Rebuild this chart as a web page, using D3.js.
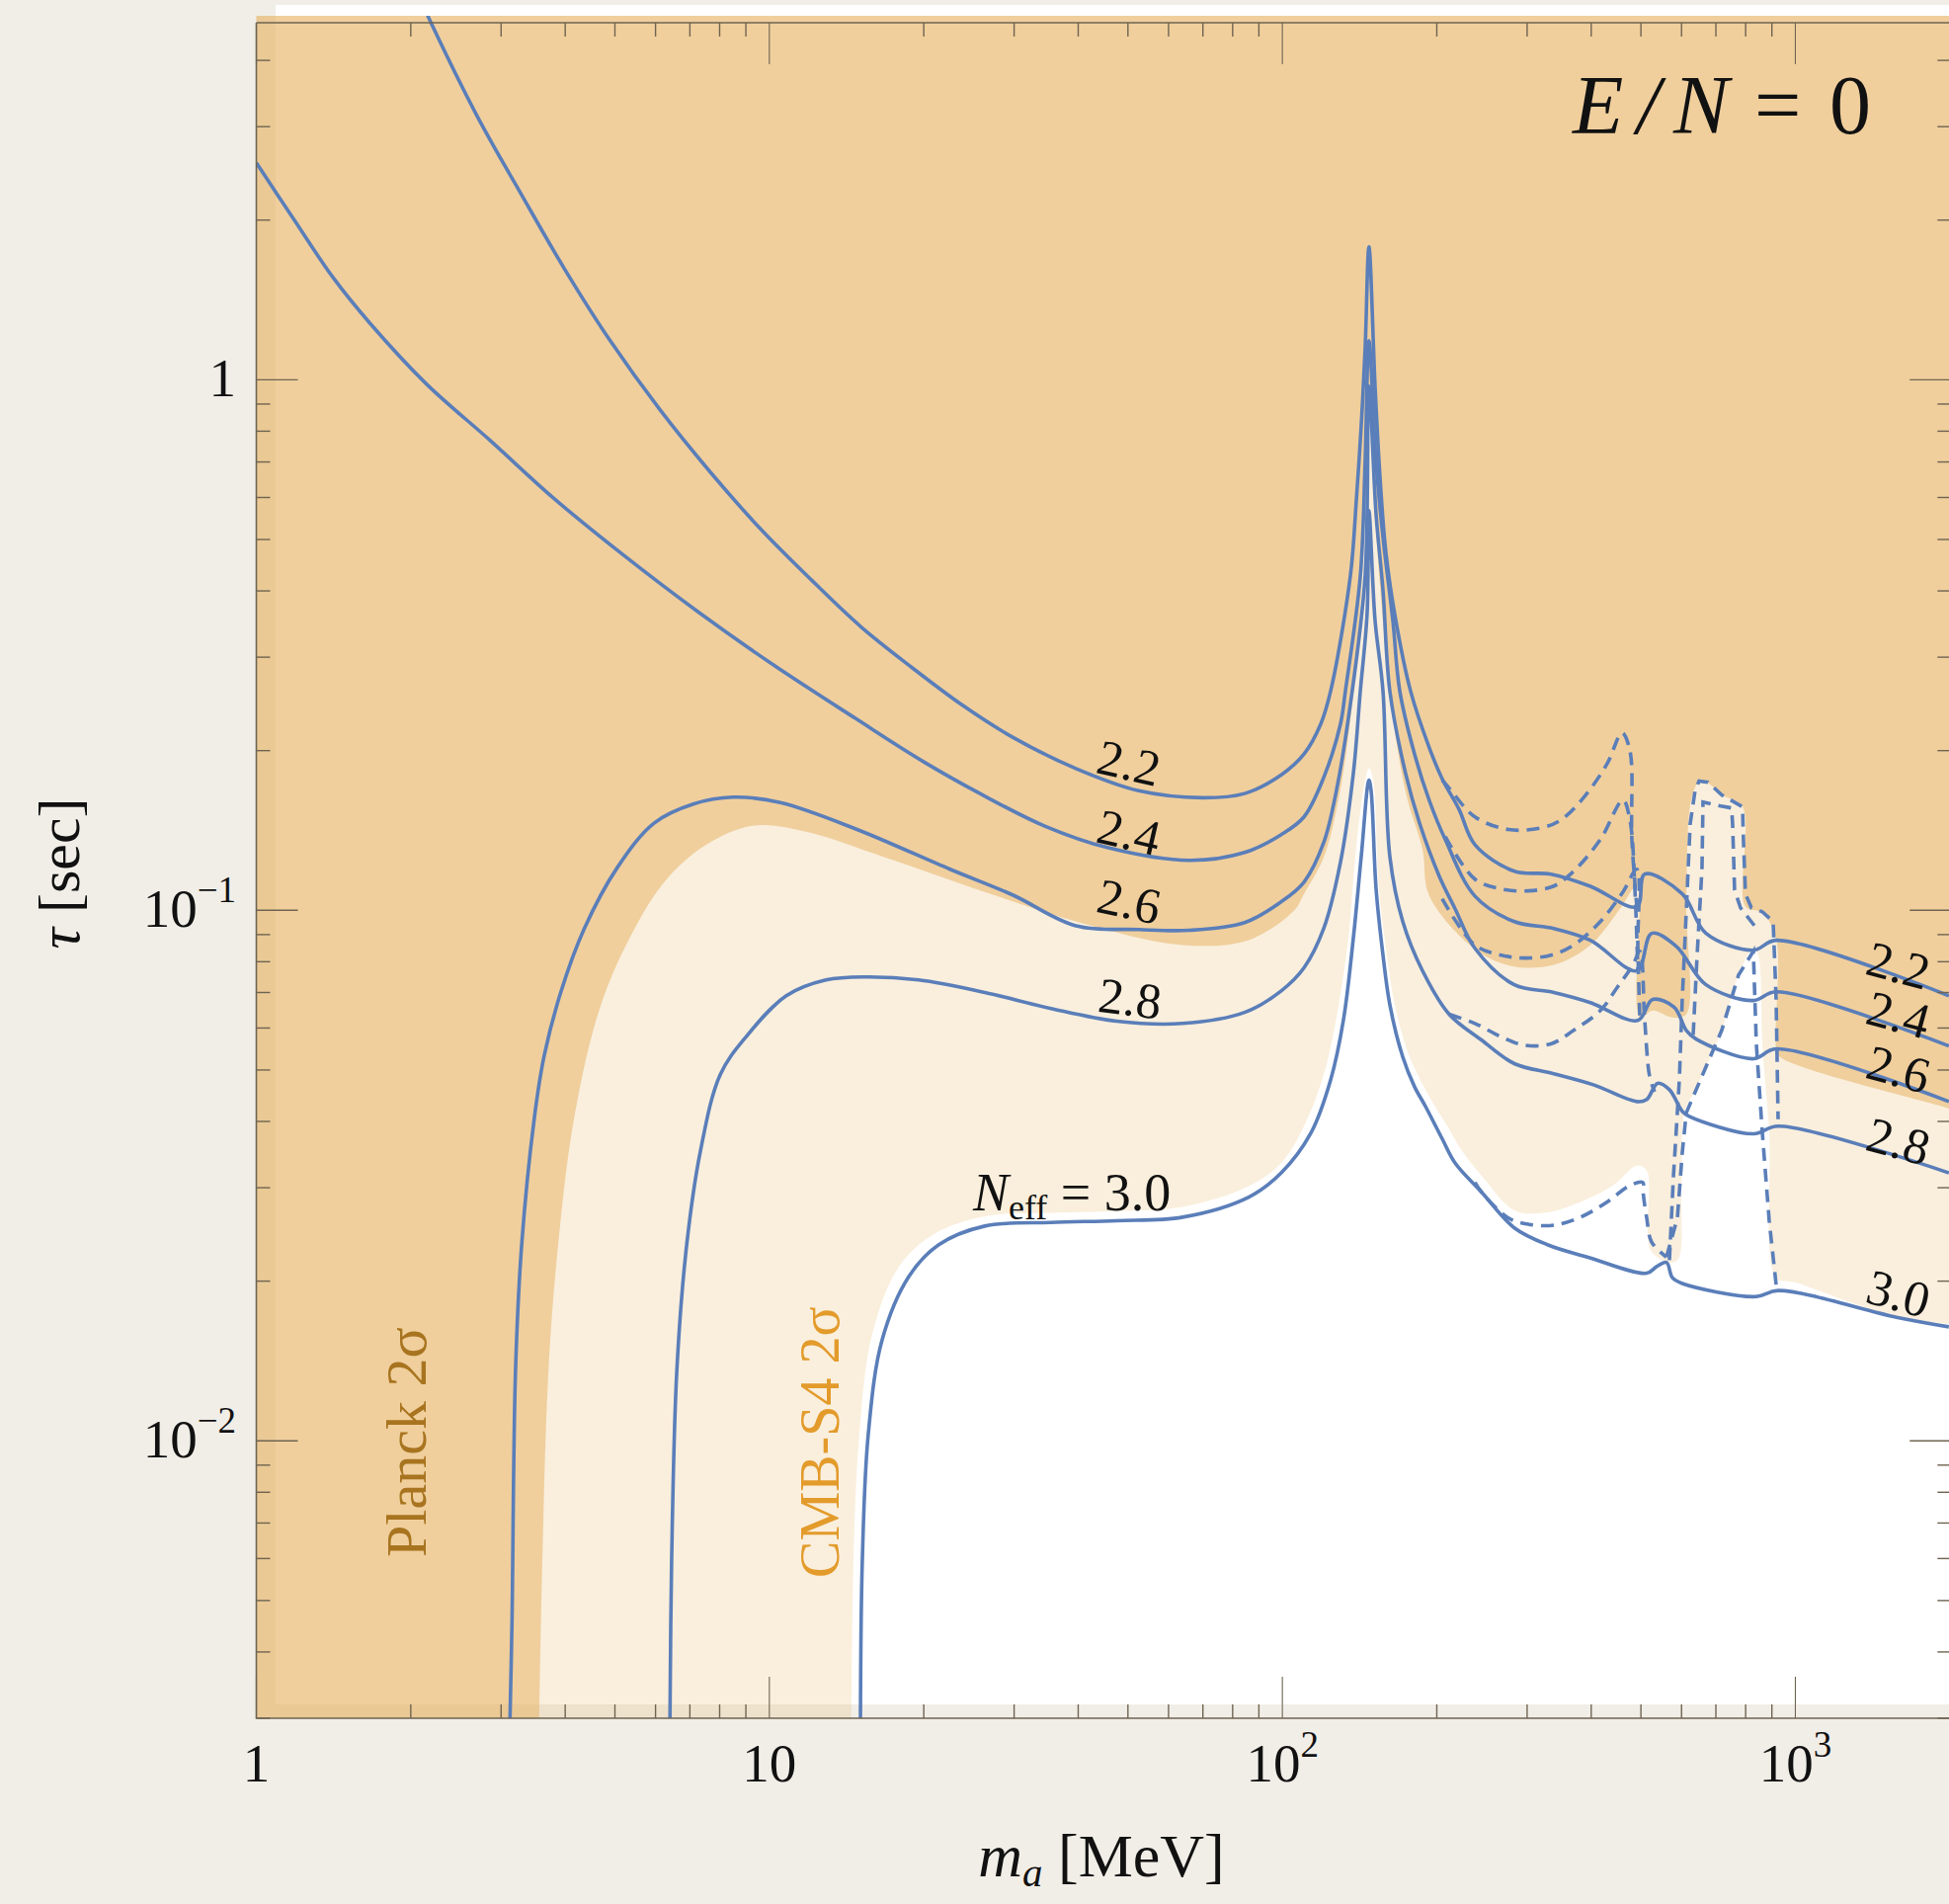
<!DOCTYPE html>
<html>
<head>
<meta charset="utf-8">
<title>N_eff contours for E/N = 0</title>
<script src="https://cdn.jsdelivr.net/npm/d3@7/dist/d3.min.js"></script>
<style>
  html, body { margin: 0; padding: 0; background: #f1eee8; }
  svg { display: block; }
  text { font-family: "Liberation Serif", "Times New Roman", serif; fill: #111; }
</style>
</head>
<body>
<svg id="chart" width="1973" height="1927"></svg>
<script>
// axis ranges: m_a [MeV] and tau [sec]
const massDomain = [1, 2000]
const tauDomain = [0.003, 4.71]

// N_eff contour levels, solid lines as [m_a, tau]
const contourLevels = ["2.2", "2.4", "2.6", "2.8", "3.0"]

const contour22 = [[2.15,4.9],[2.19,4.71],[2.69,3.15],[3.29,2.23],[4.00,1.61],[4.88,1.19],[6.12,0.878],[7.67,0.670],[9.62,0.523],[12.06,0.420],[15.1,0.342],[18.95,0.287],[23.8,0.2435],[29.8,0.212],[39.6,0.185],[52.5,0.168],[69.8,0.163],[84.4,0.166],[99.5,0.180],[110.2,0.197],[118.8,0.2245],[124.2,0.259],[135.7,0.427],[139.4,0.594],[142.5,0.823],[145.0,1.145],[147.5,1.78],[151.6,0.973],[155.0,0.656],[159.2,0.4715],[166.4,0.352],[177.8,0.259],[193.4,0.2025],[204.9,0.177],[221,0.155],[237.3,0.133],[283.3,0.1185],[333.8,0.117],[398.5,0.111],[490.9,0.1016],[508.6,0.117],[601.9,0.1074],[669.6,0.0905],[828.2,0.0841],[917.3,0.0878],[1992,0.069]]

const contour24 = [[1.0,2.565],[1.186,2.0],[1.41,1.56],[1.669,1.275],[2.148,0.981],[2.854,0.769],[3.791,0.599],[5.17,0.469],[7.24,0.366],[10.19,0.290],[14.72,0.230],[20.08,0.190],[25.85,0.1656],[34.34,0.1443],[45.61,0.1313],[65.9,0.1242],[84.4,0.1285],[99.5,0.1389],[110.2,0.150],[120.4,0.178],[129.8,0.2245],[132.7,0.259],[141.9,0.427],[145.0,0.699],[147.5,1.185],[152.3,0.699],[157.1,0.505],[164.2,0.352],[169.4,0.259],[181.8,0.194],[193.4,0.161],[207.7,0.136],[237.3,0.1064],[283.3,0.0952],[338.2,0.0924],[398.5,0.0878],[490.9,0.0769],[524.7,0.0905],[586.2,0.0855],[669.6,0.0724],[828.2,0.0676],[917.3,0.0702],[1992,0.0555]]

const contour26 = [[3.12,0.0029],[3.15,0.00454],[3.20,0.0135],[3.29,0.0234],[3.48,0.0404],[3.64,0.0532],[3.92,0.070],[4.35,0.092],[5.06,0.1206],[5.96,0.146],[7.11,0.1586],[8.5,0.1634],[10.5,0.1596],[14.7,0.1425],[22.5,0.1195],[29.8,0.1069],[39.6,0.0935],[52.5,0.0920],[65.9,0.0917],[84.4,0.0948],[99.5,0.1038],[110.2,0.113],[120.4,0.1342],[127.5,0.1684],[135.7,0.2446],[145.0,0.427],[147.5,0.973],[152.3,0.557],[157.1,0.401],[162.0,0.259],[173.9,0.181],[185.1,0.146],[202.2,0.116],[217.1,0.1007],[237.3,0.0848],[283.3,0.0724],[338.2,0.070],[398.5,0.067],[493.1,0.062],[527,0.0679],[581,0.0656],[612.8,0.0594],[640.5,0.0572],[828.2,0.0525],[917.3,0.0548],[1992,0.0436]]

const contour28 = [[6.40,0.0029],[6.45,0.00597],[6.60,0.0135],[6.90,0.0234],[7.34,0.0352],[8.02,0.049],[9.0,0.0577],[10.79,0.069],[12.89,0.0739],[15.38,0.0749],[19.55,0.0739],[26.3,0.070],[35.4,0.0653],[47.5,0.0618],[63.9,0.0612],[84.4,0.0642],[99.5,0.0705],[110.2,0.0779],[120.4,0.0924],[129.8,0.1232],[137.5,0.181],[141.9,0.259],[146.3,0.363],[147.5,0.567],[151.6,0.352],[157.1,0.259],[162.0,0.1264],[171.7,0.0952],[187.6,0.0769],[211.4,0.0637],[244.7,0.0569],[283.3,0.0514],[338.2,0.0492],[403.9,0.0469],[490.9,0.0436],[513.2,0.044],[538.8,0.0472],[568.2,0.0459],[601.9,0.0418],[621,0.0409],[828.2,0.0379],[925.5,0.0392],[1992,0.032]]

const contour30 = [[15.05,0.0029],[15.18,0.00597],[15.59,0.0103],[16.59,0.0155],[18.7,0.0204],[21.36,0.0234],[26.3,0.0254],[35.4,0.0258],[47.5,0.026],[63.9,0.0264],[86,0.0288],[99.5,0.032],[113.6,0.038],[124.2,0.0479],[131.5,0.062],[137.5,0.0885],[142.5,0.1264],[147.5,0.176],[148.9,0.1684],[152.3,0.1097],[157.1,0.0823],[162.0,0.0664],[171.7,0.0529],[181.0,0.0465],[190.1,0.0427],[204.9,0.0371],[217.1,0.0334],[244.7,0.0294],[283.3,0.0252],[329.5,0.0234],[393.3,0.0222],[513.2,0.0207],[536.4,0.0213],[560.7,0.0217],[575.9,0.0203],[601.9,0.0198],[835.6,0.0187],[925.5,0.0192],[1575,0.0171],[1992,0.0164]]

// dashed alternatives above the pion threshold
const dashed22 = [[204.9,0.176],[211.4,0.170],[237.3,0.150],[275.9,0.142],[319.3,0.143],[348.9,0.148],[386.4,0.163],[429.7,0.189],[459.3,0.216],[475.9,0.200],[480.1,0.136],[490.9,0.1016]]
const dashed24 = [[207.7,0.1377],[237.3,0.1145],[267.4,0.1097],[301.4,0.1088],[338.2,0.1111],[369.7,0.1185],[416.6,0.1359],[461.3,0.1613],[475.9,0.148],[486.6,0.1097],[493.1,0.0769]]
const dashed26 = [[204.9,0.1051],[237.3,0.086],[267.4,0.0823],[296.1,0.0813],[333.8,0.0823],[369.7,0.086],[416.6,0.0952],[461.3,0.1083],[490.9,0.1195],[493.1,0.0848],[497.5,0.0628]]
const dashed28 = [[211.4,0.0637],[237.3,0.0612],[267.4,0.0577],[296.1,0.0557],[333.8,0.056],[369.7,0.0594],[416.6,0.0647],[449.3,0.0715],[482.3,0.0789],[497.5,0.0837],[508.6,0.062],[520,0.0486],[531.7,0.0455]]
const dashed30 = [[237.3,0.0307],[244.7,0.0294],[275.9,0.0263],[301.4,0.0256],[338.2,0.0255],[381.3,0.0264],[429.7,0.0282],[475.9,0.0303],[504.1,0.0307],[505,0.0294],[513.2,0.0263],[524.6,0.0237],[560.7,0.0222]]
const spikeOuter = [[568.2,0.0219],[578.5,0.0315],[594.1,0.0479],[601.9,0.0679],[612.8,0.0994],[623.7,0.1456],[637.7,0.1684],[649,0.1752],[675.4,0.1744],[718.6,0.165],[788.8,0.1567],[792.3,0.1348],[799.4,0.1074],[820.9,0.1011],[862,0.0994],[905.1,0.0952],[917.3,0.0679],[925.5,0.0404]]
const spikeInner = [[632.1,0.0582],[643.3,0.082],[657.7,0.12],[660.6,0.16],[715.5,0.1573],[751.2,0.1559],[754.5,0.1456],[761.3,0.1092],[781.8,0.1011],[831.9,0.0936]]
const spikeDiagonal = [[560.7,0.0222],[588.9,0.0263],[601.9,0.0349],[612.8,0.0415],[669.5,0.0507],[718.6,0.0594],[774.9,0.0755],[828.2,0.0837],[839.3,0.056],[862,0.0382],[889.2,0.026],[917.3,0.0197]]

// 2 sigma exclusion edges (excluded side is above / left)
const planckBoundary = [[3.56,0.0029],[3.61,0.00597],[3.71,0.0135],[3.875,0.0234],[4.16,0.0404],[4.69,0.0661],[5.45,0.092],[6.31,0.1145],[7.54,0.133],[9.28,0.1443],[11.79,0.1406],[16.8,0.1258],[26.3,0.1083],[41.0,0.0944],[63.9,0.086],[86.0,0.0879],[105.4,0.0999],[110.2,0.1074],[120.4,0.1258],[128.6,0.1613],[136.3,0.2372],[142.5,0.397],[145.7,0.664],[147.6,0.948],[150.3,0.664],[154.3,0.433],[160.6,0.282],[167.9,0.200],[175.5,0.1613],[187.6,0.1302],[193.4,0.1064],[237.3,0.0845],[279.6,0.0785],[338.2,0.0789],[398.5,0.086],[455.3,0.1007],[490.9,0.1111],[497.5,0.0628],[527,0.0647],[575.9,0.0628],[612.8,0.0637],[613,0.1038],[626.5,0.1613],[649,0.1744],[675.4,0.1738],[718.6,0.165],[788.8,0.1567],[799.4,0.1016],[862,0.0989],[917.3,0.0885],[918,0.0548],[933.8,0.0529],[1992,0.0423],[2100,0.0415]]
const cmbS4Boundary = [[14.46,0.0029],[14.59,0.00597],[14.98,0.0103],[15.87,0.0159],[17.89,0.0213],[20.89,0.0245],[26.3,0.0265],[35.4,0.0269],[47.5,0.0271],[63.9,0.0276],[86,0.0302],[99.5,0.0334],[110.2,0.0392],[120.4,0.049],[127.5,0.0628],[134.5,0.0885],[138.8,0.1264],[145,0.176],[147.6,0.1852],[150.3,0.176],[154.3,0.1097],[159.9,0.0823],[165.6,0.0664],[175.5,0.0541],[185.1,0.0482],[196,0.0436],[211.4,0.0387],[223.9,0.0352],[244.7,0.0316],[283.3,0.0272],[323.6,0.0269],[381.3,0.0282],[441.3,0.0303],[490.9,0.033],[513.2,0.0323],[524.6,0.0227],[586.1,0.0218],[599.4,0.0303],[607.4,0.0415],[634.9,0.0455],[669.5,0.0507],[718.6,0.0594],[774.9,0.0755],[828.2,0.0848],[846.8,0.082],[862,0.056],[889.2,0.0382],[917.3,0.0203],[997.8,0.0199],[1575,0.0171],[1992,0.0166],[2100,0.0164]]

// tick labels
const xTickLabels = [["1", ""], ["10", ""], ["10", "2"], ["10", "3"]]
const xTickValues = [1, 10, 100, 1000]
const yTickLabels = [["1", ""], ["10", "\u22121"], ["10", "\u22122"]]
const yTickValues = [1, 0.1, 0.01]

/* ------- SETUP ------- */
const svg = d3.select("#chart")
const x = d3.scaleLog().domain(massDomain).range([259.5, 1973.8])
const y = d3.scaleLog().domain(tauDomain).range([1739, 23])

const blue = "#5a7eb9"
const axisColor = "#6f6451"

const smooth = d3.line().x(d => x(d[0])).y(d => y(d[1])).curve(d3.curveCatmullRom.alpha(0.5))
const straight = d3.line().x(d => x(d[0])).y(d => y(d[1]))

// closes an edge round the upper left of the plot
const regionPath = (edge) => {
  const corners = [[2100, 6], [0.9, 6], [0.9, 0.0029]]
  return smooth(edge) + corners.map(c => "L" + x(c[0]) + "," + y(c[1])).join("") + "Z"
}

svg.append("rect").attr("width", 1973).attr("height", 1927).attr("fill", "#f1eee8")
svg.append("rect")
  .attr("x", 279).attr("y", 5)
  .attr("width", 1700).attr("height", 1720)
  .attr("fill", "#ffffff")

svg.append("defs").append("clipPath").attr("id", "plotClip")
  .append("rect")
  .attr("x", x(1)).attr("y", 16)
  .attr("width", 1720).attr("height", y(tauDomain[0]) - 16)

const plot = svg.append("g").attr("clip-path", "url(#plotClip)")

/* ------- EXCLUDED REGIONS ------- */
plot.append("path")
  .attr("d", regionPath(cmbS4Boundary))
  .attr("fill", "rgb(236,190,120)")
  .attr("fill-opacity", 0.25)

plot.append("path")
  .attr("d", regionPath(planckBoundary))
  .attr("fill", "rgb(230,175,93)")
  .attr("fill-opacity", 0.5)

/* ------- CONTOURS ------- */
const solid = [contour22, contour24, contour26, contour28, contour30]
plot.append("g").selectAll("path")
  .data(solid)
  .enter()
  .append("path")
  .attr("d", d => smooth(d))
  .attr("fill", "none")
  .attr("stroke", blue)
  .attr("stroke-width", 3.6)
  .attr("stroke-linejoin", "round")

const dashedSmooth = [dashed22, dashed24, dashed26, dashed28, dashed30]
const dashedSharp = [spikeOuter, spikeInner, spikeDiagonal]
const dashG = plot.append("g")
  .attr("fill", "none")
  .attr("stroke", blue)
  .attr("stroke-width", 3.6)
  .attr("stroke-dasharray", "13,8")

dashG.selectAll("path.soft")
  .data(dashedSmooth)
  .enter()
  .append("path")
  .attr("class", "soft")
  .attr("d", d => smooth(d))

dashG.selectAll("path.sharp")
  .data(dashedSharp)
  .enter()
  .append("path")
  .attr("class", "sharp")
  .attr("d", d => straight(d))

/* ------- AXES ------- */
const frameLeft = x(1), frameRight = x(2000) + 1.5
const frameTop = y(tauDomain[1]), frameBottom = y(tauDomain[0])
const axes = svg.append("g").attr("stroke", axisColor).attr("fill", "none")

axes.append("path")
  .attr("stroke-width", 1.6)
  .attr("d", `M${frameLeft},${frameTop}L${frameRight},${frameTop}M${frameLeft},${frameTop}L${frameLeft},${frameBottom}L${frameRight},${frameBottom}M${frameRight},${frameTop}L${frameRight},${frameBottom}`)

const isDecade = v => Math.abs(Math.log10(v) - Math.round(Math.log10(v))) < 1e-9

x.ticks().forEach(t => {
  const len = isDecade(t) ? 42 : 14
  const px = x(t)
  axes.append("line").attr("x1", px).attr("x2", px).attr("y1", frameBottom).attr("y2", frameBottom - len).attr("stroke-width", isDecade(t) ? 1.1 : 1.4)
  axes.append("line").attr("x1", px).attr("x2", px).attr("y1", frameTop).attr("y2", frameTop + len).attr("stroke-width", isDecade(t) ? 1.1 : 1.4)
})

y.ticks().forEach(t => {
  const len = isDecade(t) ? 42 : 14
  const py = y(t)
  axes.append("line").attr("x1", frameLeft).attr("x2", frameLeft + len).attr("y1", py).attr("y2", py).attr("stroke-width", 1.4)
  axes.append("line").attr("x1", frameRight).attr("x2", frameRight - len).attr("y1", py).attr("y2", py).attr("stroke-width", 1.4)
})

xTickValues.forEach((v, i) => {
  const t = svg.append("text")
    .attr("x", x(v)).attr("y", 1803)
    .attr("text-anchor", "middle")
    .attr("font-size", 55)
  t.append("tspan").text(xTickLabels[i][0])
  if (xTickLabels[i][1]) t.append("tspan").attr("dy", -25).attr("font-size", 37).text(xTickLabels[i][1])
})

yTickValues.forEach((v, i) => {
  const t = svg.append("text")
    .attr("x", 239).attr("y", y(v) + 17)
    .attr("text-anchor", "end")
    .attr("font-size", 55)
  t.append("tspan").text(yTickLabels[i][0])
  if (yTickLabels[i][1]) t.append("tspan").attr("dy", -25).attr("font-size", 37).text(yTickLabels[i][1])
})

// axis titles
const xTitle = svg.append("text")
  .attr("x", 1115).attr("y", 1899)
  .attr("text-anchor", "middle")
  .attr("font-size", 62)
xTitle.append("tspan").attr("font-style", "italic").text("m")
xTitle.append("tspan").attr("font-style", "italic").attr("font-size", 41).attr("dy", 10).text("a")
xTitle.append("tspan").attr("dy", -10).text(" [MeV]")

const yTitle = svg.append("text")
  .attr("transform", "translate(80,884) rotate(-90)")
  .attr("text-anchor", "middle")
  .attr("font-size", 60)
yTitle.append("tspan").attr("font-style", "italic").text("\u03c4")
yTitle.append("tspan").text(" [sec]")

/* ------- LABELS ------- */
const labels = svg.append("g")

// contour labels near the minimum of each curve
const leftAnchors = [[50.3, 0.190, 13], [50.3, 0.1406, 13], [50.3, 0.1042, 12], [50.5, 0.0684, 7]]
leftAnchors.forEach((a, i) => {
  labels.append("text")
    .attr("transform", `translate(${x(a[0])},${y(a[1])}) rotate(${a[2]})`)
    .attr("text-anchor", "middle")
    .attr("dy", "0.35em")
    .attr("font-size", 51)
    .text(contourLevels[i])
})

const rightAnchors = [[1590, 0.0789], [1590, 0.0637], [1590, 0.0503], [1590, 0.0368], [1590, 0.0190]]
rightAnchors.forEach((a, i) => {
  labels.append("text")
    .attr("transform", `translate(${x(a[0])},${y(a[1])}) rotate(15)`)
    .attr("text-anchor", "middle")
    .attr("dy", "0.35em")
    .attr("font-size", 51)
    .text(contourLevels[i])
})

const neff = labels.append("text")
  .attr("x", x(24.95)).attr("y", y(0.0272))
  .attr("font-size", 54)
neff.append("tspan").attr("font-style", "italic").text("N")
neff.append("tspan").attr("font-size", 36).attr("dy", 9).text("eff")
neff.append("tspan").attr("dy", -9).text(" = " + contourLevels[4])

labels.append("text")
  .attr("x", 1592).attr("y", 135)
  .attr("font-size", 84)
  .attr("font-style", "italic")
  .attr("textLength", 158)
  .attr("lengthAdjust", "spacing")
  .text("E/N")
labels.append("text")
  .attr("x", 1776).attr("y", 135)
  .attr("font-size", 84)
  .text("=")
labels.append("text")
  .attr("x", 1852).attr("y", 135)
  .attr("font-size", 84)
  .text("0")

labels.append("text")
  .attr("transform", `translate(${x(2.139)},${y(0.00994)}) rotate(-90)`)
  .attr("text-anchor", "middle")
  .attr("font-size", 58)
  .style("fill", "#a8741f")
  .text("Planck 2\u03c3")

labels.append("text")
  .attr("transform", `translate(${x(13.65)},${y(0.00994)}) rotate(-90)`)
  .attr("text-anchor", "middle")
  .attr("font-size", 56)
  .style("fill", "#e39b2b")
  .text("CMB-S4 2\u03c3")
</script>
</body>
</html>
